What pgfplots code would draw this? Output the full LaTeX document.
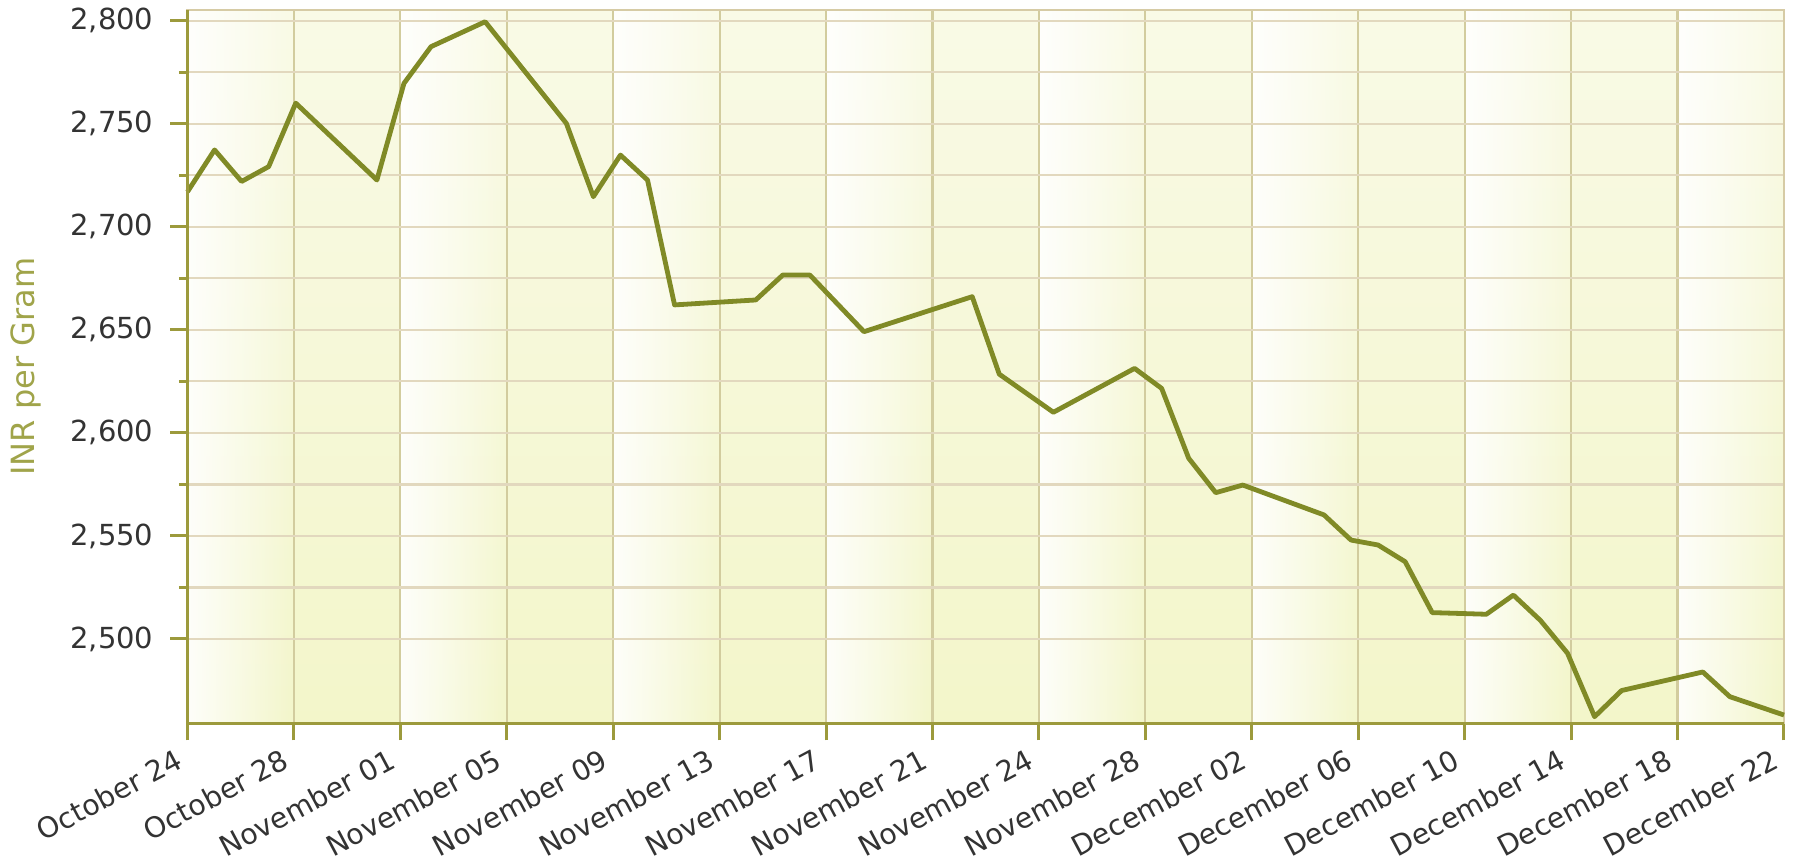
\documentclass[border=0pt]{standalone}
\usepackage{fontspec}
\setmainfont{DejaVu Sans}
\usepackage{pgfplots}
\usepackage{pgfplotstable}
\pgfplotsset{compat=1.18}
\usetikzlibrary{fadings}
\definecolor{lineolive}{RGB}{128,138,38}
\definecolor{axisolive}{RGB}{156,154,60}
\definecolor{bordertan}{RGB}{214,203,165}
\definecolor{vgrid}{RGB}{210,204,158}
\definecolor{hgrid}{RGB}{226,216,190}
\definecolor{hminor}{RGB}{236,228,210}
\definecolor{bgtop}{RGB}{249,250,230}
\definecolor{bgbot}{RGB}{243,246,202}
\definecolor{labelolive}{RGB}{160,164,74}
\definecolor{ticktext}{RGB}{51,51,51}

\pgfplotstableread{
day price
0 2717.0
1 2737.3
2 2722.0
3 2729.2
4 2760.0
7 2722.7
8 2769.6
9 2787.4
11 2799.5
14 2750.2
15 2714.6
16 2734.8
17 2722.7
18 2662.1
21 2664.5
22 2676.6
23 2676.6
25 2649.1
29 2666.1
30 2628.5
32 2610.0
35 2631.3
36 2621.6
37 2587.7
38 2571.0
39 2574.7
42 2560.2
43 2548.0
44 2545.6
45 2537.5
46 2512.8
48 2512.0
49 2521.3
50 2509.0
51 2493.1
52 2462.3
53 2475.0
56 2484.0
57 2472.0
59 2463.1
}\goldtable

\begin{document}
\begin{tikzpicture}
\begin{axis}[
  set layers,
  at={(0,0)}, anchor=south west,
  scale only axis, width=798.25pt, height=356.65pt,
  xmin=0, xmax=59, ymin=2459.1, ymax=2805.2,
  clip=false,
  xtick={0,3.9333,7.8667,11.8,15.7333,19.6667,23.6,27.5333,31.4667,35.4,39.3333,43.2667,47.2,51.1333,55.0667,59},
  xticklabels={October 24,October 28,November 01,November 05,November 09,November 13,November 17,November 21,November 24,November 28,December 02,December 06,December 10,December 14,December 18,December 22},
  ytick={2500,2550,2600,2650,2700,2750,2800},
  minor y tick num=1,
  scaled y ticks=false,
  /pgf/number format/1000 sep={,},
  /pgf/number format/assume math mode=true,
  tick pos=left, tick align=outside,
  major tick length=8.5pt, minor tick length=4.25pt,
  tick style={axisolive, line width=1.5pt},
  xmajorgrids, ymajorgrids, yminorgrids,
  x grid style={vgrid, line width=1.1pt},
  y grid style={hgrid, line width=1.1pt},
  minor grid style={hminor, line width=1.1pt},
  axis line style={bordertan, line width=1.2pt},
  yticklabel style={font=\fontsize{14.5}{16}\selectfont, color=ticktext, xshift=-5pt},
  xticklabel style={font=\fontsize{14.2}{16}\selectfont, color=ticktext, yshift=-7pt, xshift=-1pt, rotate=28, anchor=east},
  ylabel={INR per Gram},
  every axis y label/.style={at={(axis description cs:-0.1009,0.5)}, rotate=90, anchor=center, font=\fontsize{16}{18}\selectfont, color=labelolive},
]
\begin{pgfonlayer}{axis background}
  \fill[top color=bgtop, bottom color=bgbot] (rel axis cs:0,0) rectangle (rel axis cs:1,1);
  \fill[white, path fading=east, fill opacity=0.9] (axis cs:0,2459.1) rectangle (axis cs:3.9333,2805.2);
  \fill[white, path fading=east, fill opacity=0.9] (axis cs:7.8667,2459.1) rectangle (axis cs:11.8,2805.2);
  \fill[white, path fading=east, fill opacity=0.9] (axis cs:15.7333,2459.1) rectangle (axis cs:19.6667,2805.2);
  \fill[white, path fading=east, fill opacity=0.9] (axis cs:23.6,2459.1) rectangle (axis cs:27.5333,2805.2);
  \fill[white, path fading=east, fill opacity=0.9] (axis cs:31.4667,2459.1) rectangle (axis cs:35.4,2805.2);
  \fill[white, path fading=east, fill opacity=0.9] (axis cs:39.3333,2459.1) rectangle (axis cs:43.2667,2805.2);
  \fill[white, path fading=east, fill opacity=0.9] (axis cs:47.2,2459.1) rectangle (axis cs:51.1333,2805.2);
  \fill[white, path fading=east, fill opacity=0.9] (axis cs:55.0667,2459.1) rectangle (axis cs:59,2805.2);
\end{pgfonlayer}
\addplot[lineolive, line width=2.4pt, line join=round, mark=none] table[x=day, y=price] {\goldtable};
\draw[axisolive, line width=1.6pt] (rel axis cs:0,1) -- (rel axis cs:0,0) -- (rel axis cs:1,0);
\end{axis}
\pgfresetboundingbox
\path[use as bounding box] (-93.75pt,-70.85pt) rectangle (806.75pt,361.65pt);
\end{tikzpicture}
\end{document}
